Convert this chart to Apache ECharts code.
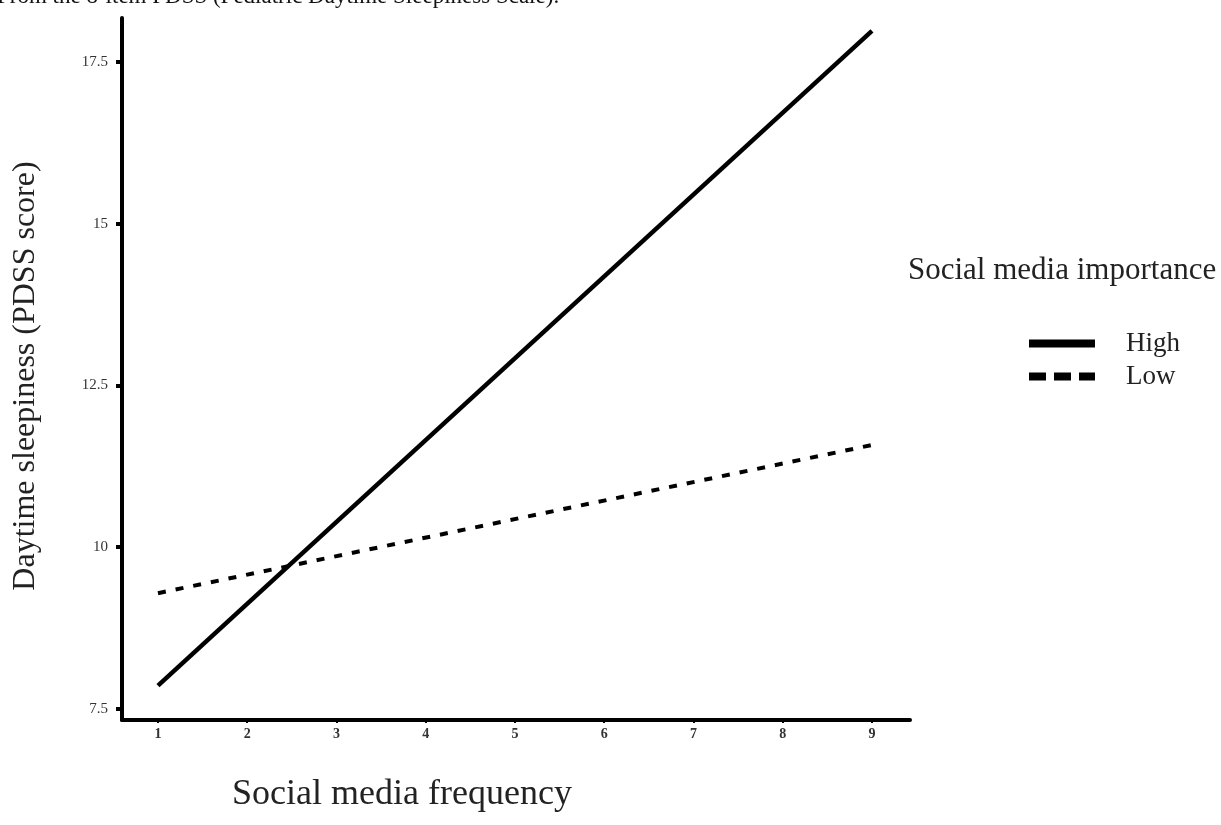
<!DOCTYPE html>
<html>
<head>
<meta charset="utf-8">
<script src="https://cdn.jsdelivr.net/npm/echarts@6/dist/echarts.min.js"></script>
<style>
  html, body { margin: 0; padding: 0; background: #fff; }
  #chart { width: 1221px; height: 825px; }
</style>
</head>
<body>
<div id="chart"></div>
<script>
// values
const frequency = [1, 9]
const highValues = [7.86, 17.98]
const lowValues = [9.29, 11.58]
const xTicks = [1, 2, 3, 4, 5, 6, 7, 8, 9]
const yTicks = [7.5, 10, 12.5, 15, 17.5]

const serif = '"Liberation Serif", "DejaVu Serif", serif'
const chart = echarts.init(document.getElementById('chart'))

const option = {
  backgroundColor: '#fff',
  animation: false,
  grid: { left: 122, right: 311, top: 18, bottom: 105 },
  graphic: [
    {
      type: 'text', left: -3, top: -15,
      style: { text: 'From the 8-item PDSS (Pediatric Daytime Sleepiness Scale).', font: '23px ' + serif, fill: '#111' }
    },
    {
      type: 'text', left: 908, top: 255,
      style: { text: 'Social media importance', font: '31px ' + serif, fill: '#222' }
    },
    {
      // y axis title
      type: 'text', x: 26, y: 376, rotation: Math.PI / 2,
      style: {
        text: 'Daytime sleepiness (PDSS score)', font: '32px ' + serif, fill: '#222',
        align: 'center', verticalAlign: 'middle'
      }
    },
    {
      // x axis title
      type: 'text', x: 402, y: 795,
      style: {
        text: 'Social media frequency', font: '36px ' + serif, fill: '#222',
        align: 'center', verticalAlign: 'middle'
      }
    }
  ],
  legend: {
    orient: 'vertical',
    left: 1020,
    top: 325,
    itemWidth: 66,
    itemHeight: 14,
    itemGap: 6,
    itemStyle: { opacity: 0 },
    textStyle: { fontFamily: serif, fontSize: 27, color: '#222', padding: [0, 0, 0, 26] },
    data: [
      { name: 'High', lineStyle: { width: 8, color: '#000' } },
      { name: 'Low', lineStyle: { width: 8, color: '#000', type: [17, 8] } }
    ]
  },
  xAxis: {
    type: 'value',
    min: 0.597,
    max: 9.426,
    axisLine: { show: true, lineStyle: { color: '#000', width: 4 } },
    axisTick: { show: true, customValues: xTicks, length: 3, lineStyle: { color: '#000', width: 2 } },
    axisLabel: { customValues: xTicks, fontFamily: serif, fontSize: 14, fontWeight: 'bold', color: '#333', margin: 7 },
    splitLine: { show: false }
  },
  yAxis: {
    type: 'value',
    min: 7.33,
    max: 18.18,
    axisLine: { show: true, lineStyle: { color: '#000', width: 4 } },
    axisTick: { show: true, customValues: yTicks, length: 6, lineStyle: { color: '#000', width: 4 } },
    axisLabel: {
      customValues: yTicks,
      fontFamily: serif, fontSize: 15, color: '#333', margin: 14,
      formatter: v => String(v)
    },
    splitLine: { show: false }
  },
  series: [
    {
      name: 'High',
      type: 'line',
      symbol: 'none',
      data: frequency.map((x, i) => [x, highValues[i]]),
      lineStyle: { color: '#000', width: 4.5 }
    },
    {
      name: 'Low',
      type: 'line',
      symbol: 'none',
      data: frequency.map((x, i) => [x, lowValues[i]]),
      lineStyle: { color: '#000', width: 4, type: [8, 10] }
    }
  ]
}

chart.setOption(option)
</script>
</body>
</html>
